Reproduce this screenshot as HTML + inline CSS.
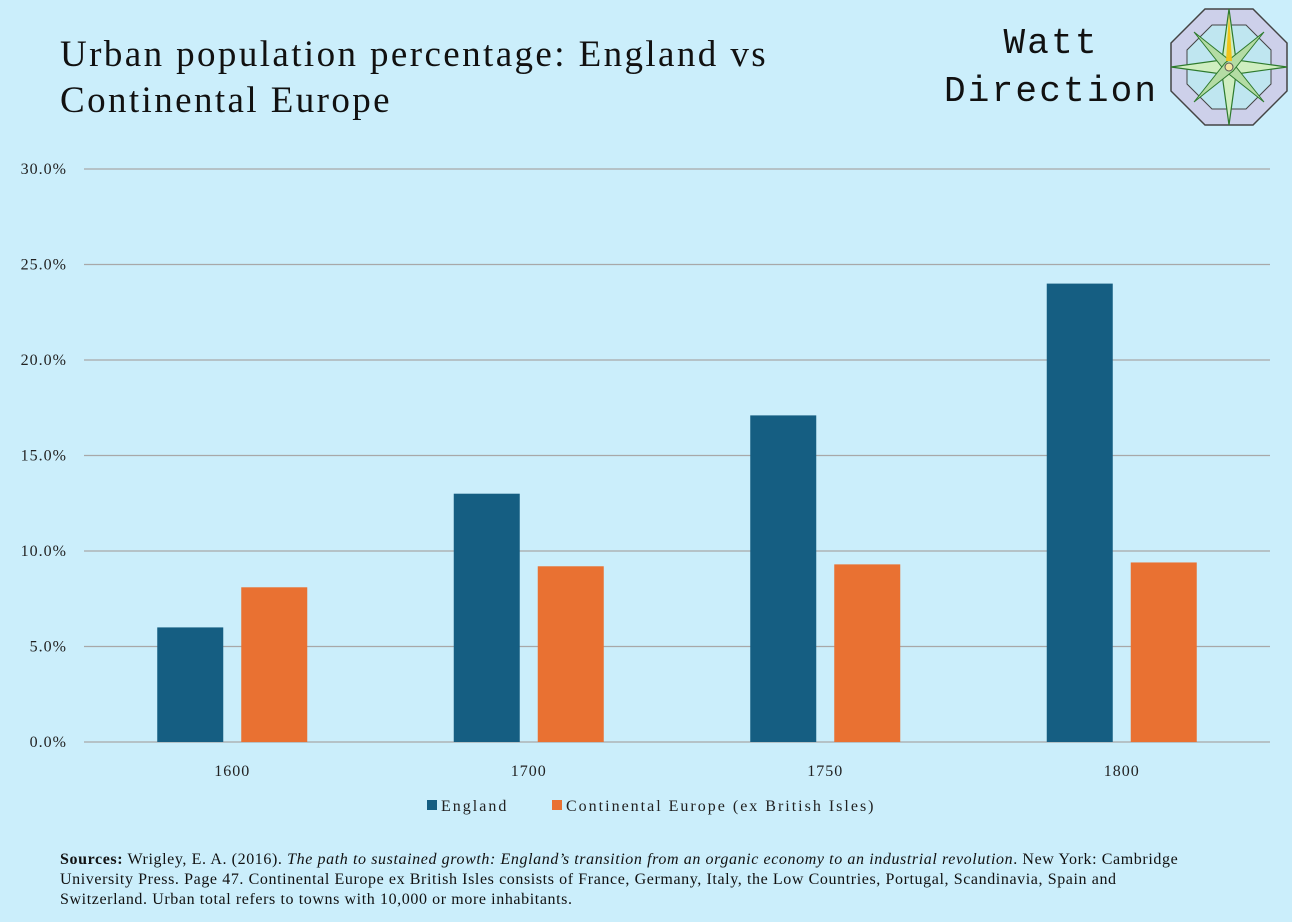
<!DOCTYPE html>
<html><head><meta charset="utf-8"><style>
body{margin:0;width:1292px;height:922px;background:#cbeefb;position:relative;overflow:hidden;font-family:"Liberation Serif",serif;}
#title{position:absolute;left:60px;top:32px;font-size:37px;letter-spacing:2.4px;line-height:46px;color:#111;}
#brand{position:absolute;left:944px;top:20px;font-family:"Liberation Mono",monospace;font-size:36px;letter-spacing:2.2px;line-height:48px;color:#111;text-align:center;}
#src{position:absolute;left:60px;top:850px;width:1140px;font-size:16px;letter-spacing:0.6px;line-height:20px;color:#111;}
</style></head><body>
<div id="title">Urban population percentage: England vs<br>Continental Europe</div>
<div id="brand">Watt<br>Direction</div>
<svg style="position:absolute;left:1168px;top:6px" width="122" height="122" viewBox="-61 -61 122 122">
<polygon points="-24,-58 24,-58 58,-24 58,24 24,58 -24,58 -58,24 -58,-24" fill="#cdd0ea" stroke="#444" stroke-width="1.5"/>
<polygon points="-17,-42 17,-42 42,-17 42,17 17,42 -17,42 -42,17 -42,-17" fill="#bfe6f0" stroke="#444" stroke-width="1"/>
<polygon points="0,-58 7,-7 58,0 7,7 0,58 -7,7 -58,0 -7,-7" fill="#cfeec0" stroke="#2d7a2d" stroke-width="1.2"/>
<polygon points="-35,-35 4,-4 35,35 -4,4" fill="#b4dca4" stroke="#2d7a2d" stroke-width="1"/>
<polygon points="35,-35 4,4 -35,35 -4,-4" fill="#b4dca4" stroke="#2d7a2d" stroke-width="1"/>
<polygon points="0,-54 3,-6 -3,-6" fill="#f0c419"/>
<circle r="4" fill="#f4e6a0" stroke="#555"/>
</svg>
<svg id="chart" style="position:absolute;left:0;top:0" width="1292" height="922"></svg>
<div id="src"><b>Sources:</b> Wrigley, E. A. (2016). <i>The path to sustained growth: England’s transition from an organic economy to an industrial revolution</i>. New York: Cambridge University Press. Page 47. Continental Europe ex British Isles consists of France, Germany, Italy, the Low Countries, Portugal, Scandinavia, Spain and Switzerland. Urban total refers to towns with 10,000 or more inhabitants.</div>
<script>
const categories=["1600","1700","1750","1800"];
const england=[6.0,13.0,17.1,24.0];
const europe=[8.1,9.2,9.3,9.4];
const ticks=[0,5,10,15,20,25,30];
const seriesNames=["England","Continental Europe (ex British Isles)"];
const colors=["#155e82","#e97132"];
const NS="http://www.w3.org/2000/svg";
const svg=document.getElementById("chart");
const x0=84,x1=1270,yb=742,yt=169,ymax=30;
const y=v=>yb-(v/ymax)*(yb-yt);
const bw=(x1-x0)/categories.length;
function mk(t,a){const e=document.createElementNS(NS,t);for(const k in a)e.setAttribute(k,a[k]);svg.appendChild(e);return e;}
ticks.forEach(t=>{
 const l=mk("line",{x1:x0,x2:x1,y1:y(t),y2:y(t),stroke:"#a8a8a8","stroke-width":1.3});
 
 
 const tx=mk("text",{x:67,y:y(t)+5,"text-anchor":"end","font-size":16,"letter-spacing":1,fill:"#222","font-family":"Liberation Serif, serif"});
 tx.textContent=t.toFixed(1)+"%";
 
 
});
categories.forEach((c,i)=>{
 const cx=x0+bw*(i+0.5);
 [england[i],europe[i]].forEach((v,j)=>{
  const bx=j===0?cx-75:cx+9;
  const r=mk("rect",{x:bx,y:y(v),width:66,height:yb-y(v),fill:colors[j]});
  
  
 });
 const t=mk("text",{x:cx,y:776,"text-anchor":"middle","font-size":16,"letter-spacing":1,fill:"#222","font-family":"Liberation Serif, serif"});
 t.textContent=c;
 
 
});
[[427,seriesNames[0]],[552,seriesNames[1]]].forEach((p,j)=>{
 const r=mk("rect",{x:p[0],y:800,width:10,height:10,fill:colors[j]});
 
 
 const t=mk("text",{x:p[0]+14,y:811,"font-size":16,"letter-spacing":2,fill:"#222","font-family":"Liberation Serif, serif"});
 t.textContent=p[1];
 
 
});
</script>
</body></html>
